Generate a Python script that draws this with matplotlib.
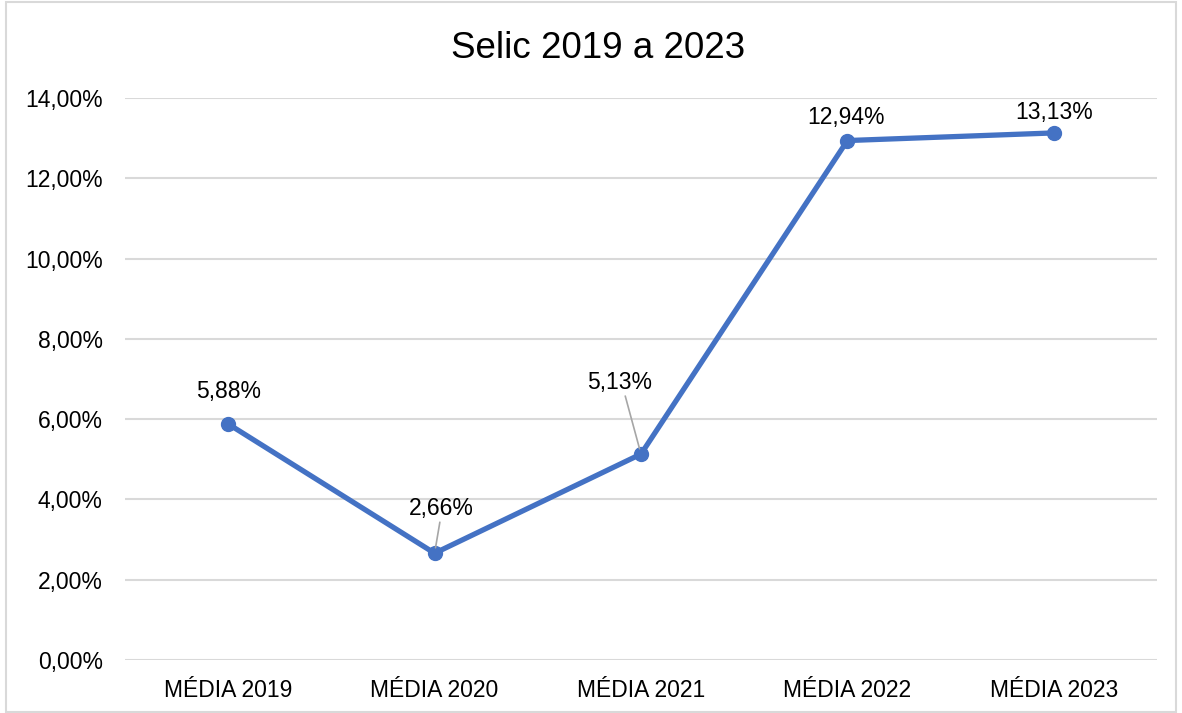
import matplotlib
matplotlib.use('Agg')
import matplotlib.pyplot as plt
from matplotlib.patches import Rectangle

# data
categories = ['MÉDIA 2019', 'MÉDIA 2020', 'MÉDIA 2021', 'MÉDIA 2022', 'MÉDIA 2023']
selic = [5.88, 2.66, 5.13, 12.94, 13.13]
y_ticks = [0, 2, 4, 6, 8, 10, 12, 14]

# label offsets in pixels (dx, dy) and whether a leader line is drawn
label_offsets = [(0, 32), (7, 45), (-21, 72), (-1, 23), (0, 20)]
leader = [False, True, True, False, False]

line_color = '#4472C4'
grid_color = '#D9D9D9'

plt.rcParams['font.family'] = ['Liberation Sans', 'DejaVu Sans']


def fmt(v):
  return f'{v:.2f}'.replace('.', ',') + '%'


fig = plt.figure(figsize=(11.82, 7.13), dpi=100)
fig.patches.append(Rectangle((0.005, 0.002), 0.99, 0.995, transform=fig.transFigure,
                             fill=False, edgecolor=grid_color, linewidth=1.5))

ax = fig.add_axes([125 / 1182, 1 - 660 / 713, (1157 - 125) / 1182, (660 - 98) / 713])

x = list(range(len(categories)))
ax.plot(x, selic, color=line_color, linewidth=3.8, marker='o', markersize=10,
        solid_capstyle='round', zorder=3)

ax.set_xlim(-0.5, len(categories) - 0.5)
ax.set_ylim(0, 14)
ax.set_yticks(y_ticks)
ax.set_yticklabels([fmt(t) for t in y_ticks])
ax.set_xticks(x)
ax.set_xticklabels(categories)
ax.tick_params(axis='both', length=0, labelsize=16.5, colors='#000000')
ax.tick_params(axis='y', pad=16)
ax.tick_params(axis='x', pad=14)

ax.yaxis.grid(True, color=grid_color, linewidth=1.5)
ax.set_axisbelow(True)
for s in ax.spines.values():
  s.set_visible(False)

for xi, v, (dx, dy), ld in zip(x, selic, label_offsets, leader):
  ax.annotate(fmt(v), (xi, v), xytext=(dx, dy), textcoords='offset pixels',
              ha='center', va='center', fontsize=16.5, zorder=4)
  if ld:
    ax.annotate('', (xi, v), xytext=(dx * 0.75, dy - 14), textcoords='offset pixels',
                arrowprops=dict(arrowstyle='-', color='#A6A6A6', linewidth=1.2,
                                shrinkA=0, shrinkB=4), zorder=5)

fig.text(598 / 1182, 1 - 49 / 713, 'Selic 2019 a 2023', ha='center', va='center', fontsize=26.5)

fig.savefig('out.png', dpi=100)
